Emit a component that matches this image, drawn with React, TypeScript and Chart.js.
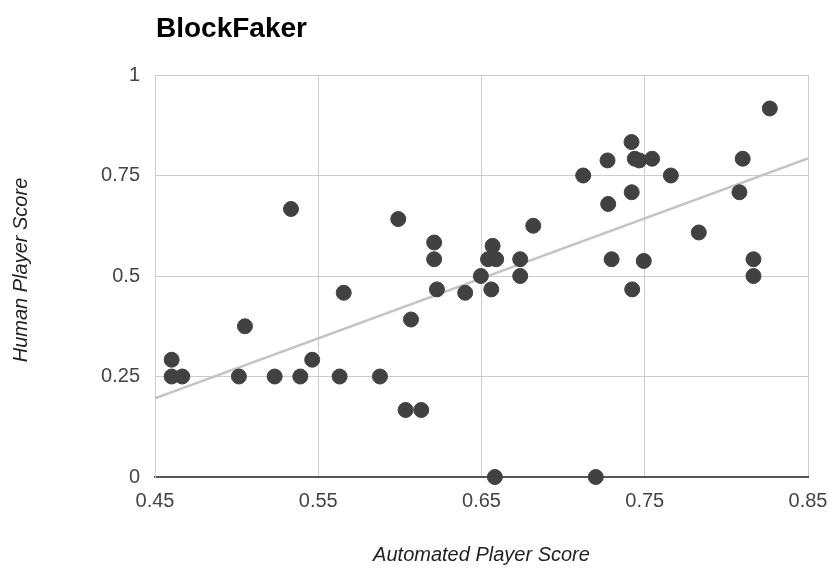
import React, { useEffect, useRef } from "react";
import { Chart, registerables } from "chart.js";

Chart.register(...registerables);

const chartTitle = "BlockFaker";
const xAxisTitle = "Automated Player Score";
const yAxisTitle = "Human Player Score";

const xTickValues = [0.45, 0.55, 0.65, 0.75, 0.85];
const xTickLabels = ["0.45", "0.55", "0.65", "0.75", "0.85"];
const yTickValues = [0, 0.25, 0.5, 0.75, 1];
const yTickLabels = ["0", "0.25", "0.5", "0.75", "1"];

const automatedScores = [
  0.4602, 0.4602, 0.4667, 0.5014, 0.5051, 0.5233, 0.5333, 0.539, 0.5463, 0.5631,
  0.5656, 0.5878, 0.599, 0.6035, 0.6068, 0.6131, 0.621, 0.621, 0.6227, 0.64,
  0.6496, 0.654, 0.659, 0.6568, 0.656, 0.6582, 0.6737, 0.6737, 0.6817, 0.7123,
  0.72, 0.7272, 0.7276, 0.7297, 0.7419, 0.742, 0.7423, 0.7439, 0.7466, 0.7494,
  0.7545, 0.766, 0.7831, 0.808, 0.81, 0.8166, 0.8166, 0.8266,
];
const humanScores = [
  0.2917, 0.25, 0.25, 0.25, 0.375, 0.25, 0.6667, 0.25, 0.2917, 0.25,
  0.4583, 0.25, 0.6417, 0.1667, 0.3917, 0.1667, 0.5833, 0.5417, 0.4667, 0.4583,
  0.5, 0.5417, 0.5417, 0.575, 0.4667, 0, 0.5417, 0.5, 0.625, 0.75,
  0, 0.7875, 0.6792, 0.5417, 0.8333, 0.7083, 0.4667, 0.7917, 0.7875, 0.5375,
  0.7917, 0.75, 0.6083, 0.7083, 0.7917, 0.5417, 0.5, 0.9167,
];

const trendX = [0.45, 0.85];
const trendY = [0.196, 0.7926];

export default function App() {
  const canvasRef = useRef<HTMLCanvasElement | null>(null);

  useEffect(() => {
    const canvas = canvasRef.current;
    if (!canvas) return;
    Chart.defaults.font.family = "'Liberation Sans', Arial, sans-serif";

    const textPlugin = {
      id: "texts",
      afterDraw(chart: any) {
        const ctx = chart.ctx;
        const area = chart.chartArea;
        ctx.save();
        ctx.fillStyle = "#000";
        ctx.font = "bold 28px 'Liberation Sans', Arial, sans-serif";
        ctx.textAlign = "left";
        ctx.textBaseline = "alphabetic";
        ctx.fillText(chartTitle, 156, 37);

        ctx.fillStyle = "#222";
        ctx.font = "italic 20px 'Liberation Sans', Arial, sans-serif";
        ctx.textAlign = "center";
        ctx.textBaseline = "middle";
        ctx.fillText(xAxisTitle, (area.left + area.right) / 2, 555);

        ctx.translate(21, (area.top + area.bottom) / 2 - 6);
        ctx.rotate(-Math.PI / 2);
        ctx.fillText(yAxisTitle, 0, 0);
        ctx.restore();
      },
    };

    const chart = new Chart(canvas, {
      type: "scatter",
      data: {
        datasets: [
          {
            type: "line",
            label: "Trend",
            data: trendX.map((x, i) => ({ x, y: trendY[i] })),
            borderColor: "#c4c4c4",
            borderWidth: 2.5,
            pointRadius: 0,
            fill: false,
            order: 2,
          } as any,
          {
            label: "Scores",
            data: automatedScores.map((x, i) => ({ x, y: humanScores[i] })),
            backgroundColor: "#414141",
            borderColor: "#414141",
            pointRadius: 7.5,
            pointHoverRadius: 7.5,
            clip: false as any,
            order: 1,
          },
        ],
      },
      options: {
        animation: false,
        responsive: false,
        maintainAspectRatio: false,
        layout: { padding: { top: 75, right: 22, left: 0, bottom: 0 } },
        plugins: {
          legend: { display: false },
          tooltip: { enabled: false },
          title: { display: false },
        },
        scales: {
          x: {
            type: "linear",
            min: 0.45,
            max: 0.85,
            afterFit: (s: any) => {
              s.height = 91;
              s.paddingLeft = 0;
              s.paddingRight = 0;
            },
            afterBuildTicks: (s: any) => {
              s.ticks = xTickValues.map((v) => ({ value: v }));
            },
            ticks: {
              callback: (v: any) => xTickLabels[xTickValues.indexOf(Number(v))] ?? "",
              color: "#444",
              font: { size: 20 },
              padding: 12,
              maxRotation: 0,
              autoSkip: false,
            },
            grid: { color: "#cccccc", lineWidth: 1, drawTicks: false },
            border: { color: "#555555", width: 2 },
          },
          y: {
            type: "linear",
            min: 0,
            max: 1,
            afterFit: (s: any) => {
              s.width = 155;
              s.paddingTop = 0;
              s.paddingBottom = 0;
            },
            afterBuildTicks: (s: any) => {
              s.ticks = yTickValues.map((v) => ({ value: v }));
            },
            ticks: {
              callback: (v: any) => yTickLabels[yTickValues.indexOf(Number(v))] ?? "",
              color: "#444",
              font: { size: 20 },
              padding: 15,
              autoSkip: false,
            },
            grid: { color: "#cccccc", lineWidth: 1, drawTicks: false },
            border: { color: "#cccccc", width: 1 },
          },
        },
      },
      plugins: [textPlugin],
    });

    return () => chart.destroy();
  }, []);

  return (
    <div style={{ position: "absolute", left: 0, top: 0, width: 830, height: 568, background: "#fff" }}>
      <canvas ref={canvasRef} width={830} height={568} style={{ display: "block" }} />
    </div>
  );
}
